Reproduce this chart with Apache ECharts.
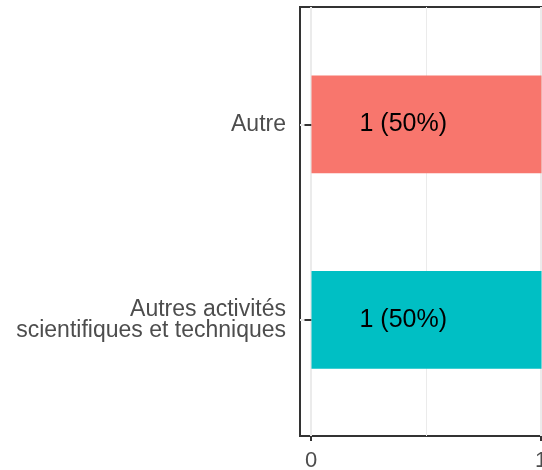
<!DOCTYPE html>
<html>
<head>
<meta charset="utf-8">
<script src="https://cdn.jsdelivr.net/npm/echarts@6/dist/echarts.min.js"></script>
<style>
  html, body { margin: 0; padding: 0; background: #fff; }
  #chart { width: 542px; height: 470px; }
</style>
</head>
<body>
<div id="chart"></div>
<script>
// categories listed bottom to top (ECharts puts the first category at the bottom)
const categories = ["Autres activités\nscientifiques et techniques", "Autre"];
const counts = [1, 1];
const barColors = ["#00BFC4", "#F8766D"];
const xTicks = [0, 1];

const total = counts.reduce((a, b) => a + b, 0);
const font = "'Liberation Sans', Arial, Helvetica, sans-serif";

const chart = echarts.init(document.getElementById("chart"));
chart.setOption({
  animation: false,
  grid: [
    // panel frame
    { left: 300, top: 7, width: 253, height: 429, outerBoundsMode: "none", show: true, borderColor: "#333", borderWidth: 2, backgroundColor: "transparent" },
    // x scale 0..1
    { left: 311, top: 7, width: 230, height: 429, outerBoundsMode: "none" },
    // bars
    { left: 300, top: 26.5, width: 253, height: 391, outerBoundsMode: "none" },
    // horizontal grid lines through the category centres
    { left: 300, top: 124.25, width: 253, height: 195.5, outerBoundsMode: "none" }
  ],
  xAxis: [
    { gridIndex: 0, type: "value", min: -0.05, max: 1.05, show: false },
    {
      gridIndex: 1, type: "value", min: xTicks[0], max: xTicks[xTicks.length - 1], interval: 1,
      axisLine: { show: false },
      axisTick: { show: true, inside: false, length: 5, lineStyle: { color: "#333", width: 2 } },
      axisLabel: { color: "#4d4d4d", fontSize: 22, fontFamily: font, margin: 14 },
      splitLine: { show: true, lineStyle: { color: "#ebebeb", width: 2 } },
      minorTick: { show: false, splitNumber: 2 },
      minorSplitLine: { show: true, lineStyle: { color: "#ebebeb", width: 1 } }
    },
    { gridIndex: 2, type: "value", min: -0.05, max: 1.05, show: false },
    { gridIndex: 3, type: "value", min: -0.05, max: 1.05, show: false }
  ],
  yAxis: [
    { gridIndex: 0, type: "value", show: false },
    { gridIndex: 1, type: "value", show: false },
    {
      gridIndex: 2, type: "category", data: categories,
      axisLine: { show: false },
      axisTick: { show: true, alignWithLabel: true, inside: false, length: 7, lineStyle: { color: "#333", width: 2 } },
      axisLabel: { color: "#4d4d4d", fontSize: 23, lineHeight: 21, fontFamily: font, margin: 14, align: "right", padding: [10, 0, 0, 0] },
      splitLine: { show: false }
    },
    {
      gridIndex: 3, type: "category", data: categories, boundaryGap: false,
      axisLine: { show: false }, axisTick: { show: false }, axisLabel: { show: false },
      splitLine: { show: true, lineStyle: { color: "#ebebeb", width: 2 } }
    }
  ],
  series: [
    {
      type: "bar",
      xAxisIndex: 2,
      yAxisIndex: 2,
      barWidth: "50%",
      data: counts.map((v, i) => ({ value: v, itemStyle: { color: barColors[i] } })),
      label: {
        show: true,
        position: [48, "50%"],
        align: "left",
        verticalAlign: "middle",
        color: "#000",
        fontSize: 25,
        fontFamily: font,
        formatter: (p) => `${p.value} (${Math.round((p.value / total) * 100)}%)`
      }
    }
  ]
});
</script>
</body>
</html>
